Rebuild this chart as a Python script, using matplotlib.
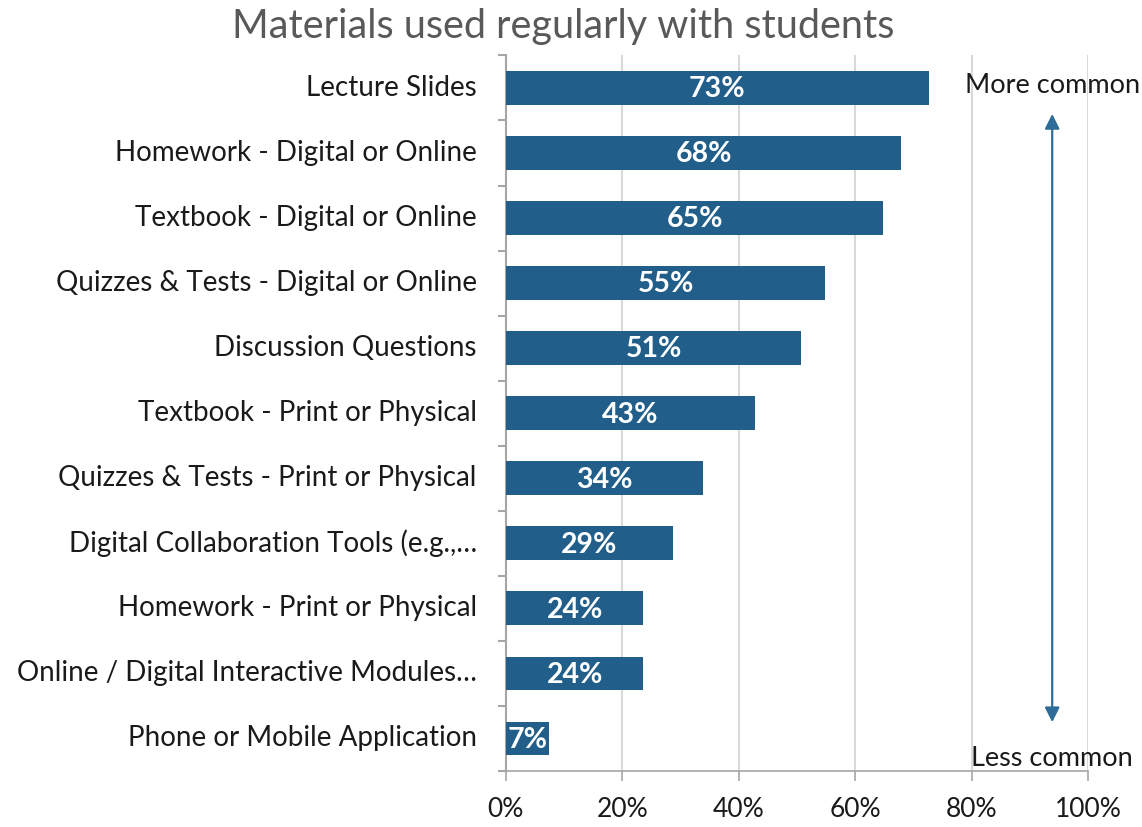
import matplotlib
matplotlib.use("Agg")
import matplotlib.pyplot as plt
import numpy as np

categories = [
    "Lecture Slides",
    "Homework - Digital or Online",
    "Textbook - Digital or Online",
    "Quizzes & Tests - Digital or Online",
    "Discussion Questions",
    "Textbook - Print or Physical",
    "Quizzes & Tests - Print or Physical",
    "Digital Collaboration Tools (e.g.,\u2026",
    "Homework - Print or Physical",
    "Online / Digital Interactive Modules\u2026",
    "Phone or Mobile Application",
]
values = [72.6, 67.9, 64.8, 54.8, 50.7, 42.8, 33.8, 28.7, 23.6, 23.6, 7.4]
value_labels = ["73%", "68%", "65%", "55%", "51%", "43%", "34%", "29%", "24%", "24%", "7%"]
x_ticks = [0, 20, 40, 60, 80, 100]
x_tick_labels = ["0%", "20%", "40%", "60%", "80%", "100%"]

plt.rcParams['font.family'] = ['Lato', 'DejaVu Sans']

fig = plt.figure(figsize=(11.42, 8.27), dpi=100)
ax = fig.add_axes([0.443, 0.0677, 0.510, 0.8653])

bar_color = "#215f8a"
y = np.arange(len(categories))
ax.barh(y, values, height=0.52, color=bar_color, zorder=3)
for yi, v, lab in zip(y, values, value_labels):
    ax.text(v / 2, yi + 0.02, lab, ha="center", va="center", color="white",
            fontsize=20.5, fontweight="bold", zorder=4)

ax.set_xlim(0, 100)
ax.set_ylim(len(categories) - 0.5, -0.5)
ax.set_xticks(x_ticks)
ax.set_xticklabels(x_tick_labels, fontsize=19, color="#1a1a1a")
ax.set_yticks(y)
ax.set_yticklabels(categories, fontsize=20, color="#1a1a1a", va="center")
ax.set_yticks(np.arange(-0.5, len(categories), 1), minor=True)
ax.tick_params(axis="y", which="major", length=0, pad=21)
ax.tick_params(axis="y", which="minor", length=6, color="#a6a6a6", width=1.5, direction="out")
ax.tick_params(axis="x", which="major", length=7, color="#a6a6a6", width=1.2, pad=12)

ax.grid(axis="x", color="#d9d9d9", linewidth=1.5, zorder=0)
for s in ["top", "right"]:
    ax.spines[s].set_visible(False)
ax.spines["left"].set_color("#a6a6a6")
ax.spines["left"].set_linewidth(1.5)
ax.spines["bottom"].set_color("#a6a6a6")
ax.spines["bottom"].set_linewidth(1.2)

# arrow
ax.annotate("", xy=(93.8, 0.4), xytext=(93.8, 9.75),
            arrowprops=dict(arrowstyle="<|-|>", color="#2f6b97", lw=1.6,
                            mutation_scale=22, shrinkA=0, shrinkB=0),
            zorder=5)
ax.text(93.8, -0.04, "More common", ha="center", va="center", fontsize=19.5,
        color="#1a1a1a", clip_on=False)
ax.text(93.8, 10.3, "Less common", ha="center", va="center", fontsize=19.5,
        color="#1a1a1a", clip_on=False)

fig.text(0.493, 0.968, "Materials used regularly with students", ha="center",
         va="center", fontsize=28.5, color="#595959")

fig.savefig("out.png", dpi=100)
